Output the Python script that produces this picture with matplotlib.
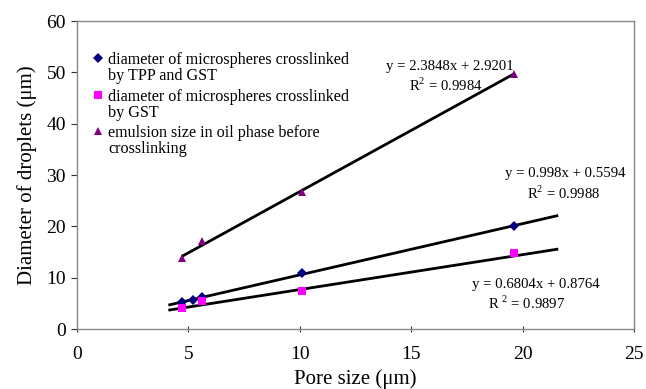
import matplotlib
matplotlib.use("Agg")
import matplotlib.pyplot as plt
import numpy as np

plt.rcParams['font.family'] = ['Liberation Serif', 'DejaVu Serif']
plt.rcParams['mathtext.fontset'] = 'custom'
plt.rcParams['mathtext.rm'] = 'Liberation Serif'

# Measured droplet diameters (um) versus membrane pore size (um)
pore_tpp = [4.7, 5.2, 5.6, 10.1, 19.6]
diam_tpp = [5.3, 5.7, 6.3, 10.9, 20.1]

pore_gst = [4.7, 5.6, 10.1, 19.6]
diam_gst = [4.0, 5.4, 7.4, 14.8]

pore_emul = [4.7, 5.6, 10.1, 19.6]
diam_emul = [13.8, 17.2, 26.7, 49.7]

# Linear trendline coefficients (slope, intercept, R^2) and drawn x-ranges
fit_tpp = (0.998, 0.5594, 0.9988)
fit_gst = (0.6804, 0.8764, 0.9897)
fit_emul = (2.3848, 2.9201, 0.9984)
range_tpp = (4.1, 21.6)
range_gst = (4.1, 21.6)
range_emul = (4.7, 19.6)

labels = ["diameter of microspheres crosslinked\nby TPP and GST",
          "diameter of microspheres crosslinked\nby GST",
          "emulsion size in oil phase before\ncrosslinking"]

fig = plt.figure(figsize=(6.46, 3.89), dpi=100)
ax = fig.add_axes([77/646, 1-329/389, 557/646, 308/389])

series = [
    (pore_tpp, diam_tpp, fit_tpp, range_tpp, 'D', '#000080', 5.5),
    (pore_gst, diam_gst, fit_gst, range_gst, 's', '#FF00FF', 6),
    (pore_emul, diam_emul, fit_emul, range_emul, '^', '#800080', 6),
]

for px, py, (a, b, r2), (x0, x1), mk, col, ms in series:
    xs = np.array([x0, x1])
    ax.plot(xs, a*xs + b, color='black', lw=2.0, zorder=2, solid_capstyle='butt')
    ax.plot(px, py, linestyle='none', marker=mk, color=col, ms=ms,
            markeredgewidth=0, zorder=3)

# Trendline equations
fs_eq = 10.6
ax.text(16.75, 51.1, f"y = {fit_emul[0]}x + {fit_emul[1]}", ha='center', va='center', fontsize=fs_eq)
ax.text(16.55, 47.4, f"R$^2$ = {fit_emul[2]}", ha='center', va='center', fontsize=fs_eq)
ax.text(21.9, 30.2, f"y = {fit_tpp[0]}x + {fit_tpp[1]}", ha='center', va='center', fontsize=fs_eq)
ax.text(21.85, 26.5, f"R$^2$ = {fit_tpp[2]}", ha='center', va='center', fontsize=fs_eq)
ax.text(20.6, 8.6, f"y = {fit_gst[0]}x + {fit_gst[1]}", ha='center', va='center', fontsize=fs_eq)
ax.text(20.2, 4.9, f"R $^2$ = {fit_gst[2]}", ha='center', va='center', fontsize=fs_eq)

# Legend drawn in axes coordinates
leg_y = [0.880, 0.760, 0.643]
for (px, py, fit, rng, mk, col, ms), lab, yy in zip(series, labels, leg_y):
    ax.plot([0.038], [yy], transform=ax.transAxes, marker=mk, color=col,
            ms=ms-0.5, markeredgewidth=0, linestyle='none', clip_on=False)
    ax.text(0.056, yy + 0.020, lab, transform=ax.transAxes, ha='left', va='top',
            fontsize=11.6, linespacing=1.05)

ax.set_xlim(0, 25)
ax.set_ylim(0, 60)
ax.set_xticks([0, 5, 10, 15, 20, 25])
ax.set_yticks([0, 10, 20, 30, 40, 50, 60])
ax.tick_params(axis='x', direction='inout', length=5, width=0.8, color='#333333',
               labelsize=14, pad=10)
ax.tick_params(axis='y', direction='out', length=4, width=0.8, color='#333333',
               labelsize=14, pad=4)
for s in ax.spines.values():
    s.set_color('#888888')
    s.set_linewidth(1.0)

ax.set_xlabel("Pore size (\u03bcm)", fontsize=15, labelpad=4)
ax.set_ylabel("Diameter of droplets (\u03bcm)", fontsize=15, labelpad=7)

fig.savefig("out.png", dpi=100)
